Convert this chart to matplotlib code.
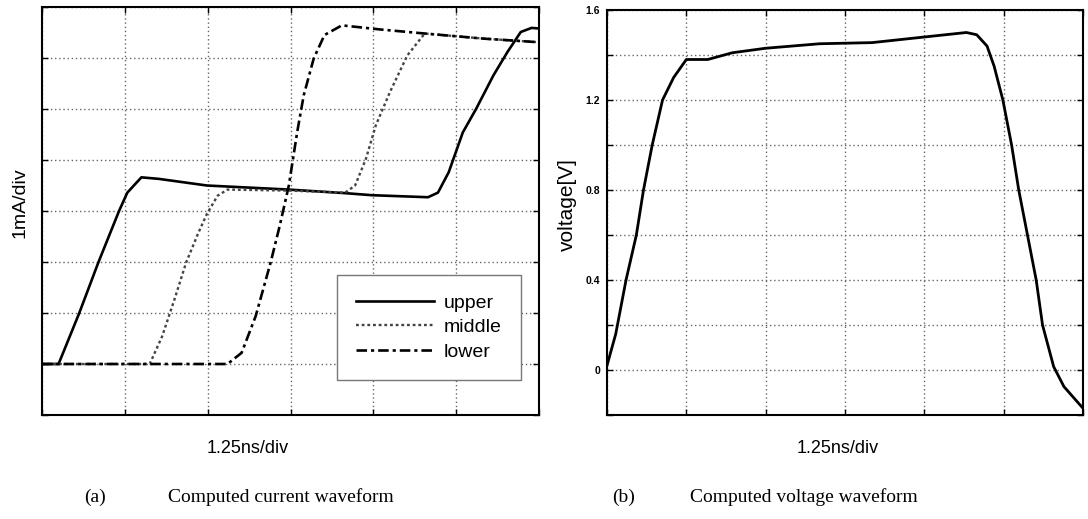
import matplotlib
matplotlib.use("Agg")
import matplotlib.pyplot as plt

# ---------------- data (x in divisions of 1.25 ns) ----------------
upper_x = [0.0, 0.20, 0.45, 0.68, 0.93, 1.03, 1.20, 1.41, 1.99, 2.98, 3.66, 3.98, 4.66, 4.78, 4.91, 5.08, 5.24, 5.45, 5.62, 5.78, 5.91, 5.99]
upper_y = [0.0, 0.0, 1.0, 1.99, 3.0, 3.36, 3.66, 3.63, 3.50, 3.42, 3.35, 3.31, 3.27, 3.36, 3.76, 4.54, 5.0, 5.66, 6.12, 6.51, 6.59, 6.58]

middle_x = [0.0, 1.30, 1.45, 1.60, 1.74, 1.89, 1.99, 2.12, 2.24, 2.98, 3.66, 3.78, 3.91, 4.03, 4.20, 4.41, 4.62, 5.33, 5.99]
middle_y = [0.0, 0.0, 0.54, 1.27, 1.99, 2.58, 2.94, 3.30, 3.42, 3.40, 3.36, 3.50, 4.02, 4.68, 5.33, 6.05, 6.48, 6.38, 6.31]

lower_x = [0.0, 2.24, 2.41, 2.58, 2.76, 2.87, 2.98, 3.08, 3.16, 3.28, 3.41, 3.62, 4.08, 4.62, 5.33, 5.99]
lower_y = [0.0, 0.0, 0.22, 0.94, 1.99, 2.71, 3.50, 4.54, 5.27, 5.99, 6.45, 6.64, 6.56, 6.48, 6.38, 6.31]

volt_x = [0.0, 0.11, 0.24, 0.37, 0.46, 0.57, 0.70, 0.84, 1.0, 1.27, 1.58, 2.0, 2.68, 3.34, 4.0, 4.53, 4.66, 4.79, 4.88, 4.99, 5.10, 5.19, 5.30, 5.41, 5.49, 5.63, 5.76, 6.0]
volt_y = [0.02, 0.16, 0.40, 0.60, 0.80, 1.0, 1.20, 1.30, 1.38, 1.38, 1.41, 1.43, 1.45, 1.455, 1.48, 1.50, 1.49, 1.44, 1.35, 1.20, 1.0, 0.80, 0.60, 0.40, 0.20, 0.015, -0.074, -0.17]

volt_ticks = [-0.2, 0.0, 0.2, 0.4, 0.6, 0.8, 1.0, 1.2, 1.4, 1.6]
volt_ticklabels = ["", "0", "", "0.4", "", "0.8", "", "1.2", "", "1.6"]

legend_labels = ["upper", "middle", "lower"]
cur_xlabel = "1.25ns/div"
cur_ylabel = "1mA/div"
volt_ylabel = "voltage[V]"
caption_a = ("(a)", "Computed current waveform")
caption_b = ("(b)", "Computed voltage waveform")

# ---------------- figure ----------------
W, H = 1088, 519
fig = plt.figure(figsize=(W / 100, H / 100), dpi=100)
sans = ["Liberation Sans Narrow", "Liberation Sans", "DejaVu Sans"]
serif = ["Liberation Serif", "DejaVu Serif"]

def box(x0, y0, x1, y1):
    return [x0 / W, 1 - y1 / H, (x1 - x0) / W, (y1 - y0) / H]

grid_kw = dict(color="#666666", linestyle=(0, (1, 2.0)), linewidth=1.0)

def style(ax):
    for s in ax.spines.values():
        s.set_linewidth(1.5)
        s.set_color("black")
    ax.tick_params(direction="in", length=4, width=1, top=True, right=True)
    ax.grid(True, **grid_kw)
    ax.set_axisbelow(True)

# ---- left: current ----
ax1 = fig.add_axes(box(42, 7, 539, 415))
ax1.plot(upper_x, upper_y, color="black", lw=1.9, ls="-", label=legend_labels[0])
ax1.plot(middle_x, middle_y, color="#444444", lw=1.7, ls=(0, (1.2, 1.2)), label=legend_labels[1])
ax1.plot(lower_x, lower_y, color="black", lw=1.9, ls=(0, (4, 1.5, 1.2, 1.5)), label=legend_labels[2])
ax1.set_xlim(0, 6)
ax1.set_ylim(-1, 7)
ax1.set_xticks(range(0, 7))
ax1.set_yticks(range(-1, 8))
ax1.set_xticklabels([])
ax1.set_yticklabels([])
style(ax1)
ax1.set_xlabel(cur_xlabel, fontsize=13, family=sans)
ax1.xaxis.set_label_coords((248 - 42) / 497, -25 / 408)
ax1.set_ylabel(cur_ylabel, fontsize=14, family=sans)
ax1.yaxis.set_label_coords((29 - 42) / 497, 0.52)
leg = ax1.legend(loc="lower right", bbox_to_anchor=((521 - 42) / 497, (415 - 380) / 408),
                 frameon=True, fancybox=False, handlelength=4.0, borderpad=1.0,
                 handletextpad=0.5, labelspacing=0.35, borderaxespad=0,
                 prop={"family": sans, "size": 14})
leg.get_frame().set_edgecolor("#777777")
leg.get_frame().set_linewidth(1.0)
leg.get_frame().set_alpha(1)

# ---- right: voltage ----
ax2 = fig.add_axes(box(607, 10, 1083, 415))
ax2.plot(volt_x, volt_y, color="black", lw=2.0)
ax2.set_xlim(0, 6)
ax2.set_ylim(-0.2, 1.6)
ax2.set_xticks(range(0, 7))
ax2.set_xticklabels([])
ax2.set_yticks(volt_ticks)
ax2.set_yticklabels(volt_ticklabels, fontsize=7.5, fontweight="bold", family=sans)
style(ax2)
ax2.tick_params(axis="y", pad=5)
ax2.set_xlabel(cur_xlabel, fontsize=13, family=sans)
ax2.xaxis.set_label_coords(0.5 - 7 / 476, -25 / 405)
ax2.set_ylabel(volt_ylabel, fontsize=15, family=sans)
ax2.yaxis.set_label_coords((577 - 607) / 476, 0.52)

# ---- captions ----
cy = 1 - 497 / H
fig.text(95 / W, cy, caption_a[0], fontsize=14, family=serif, ha="center", va="center")
fig.text(168 / W, cy, caption_a[1], fontsize=14, family=serif, ha="left", va="center")
fig.text(624 / W, cy, caption_b[0], fontsize=14, family=serif, ha="center", va="center")
fig.text(690 / W, cy, caption_b[1], fontsize=14, family=serif, ha="left", va="center")

fig.savefig("out.png", dpi=100, facecolor="white")
